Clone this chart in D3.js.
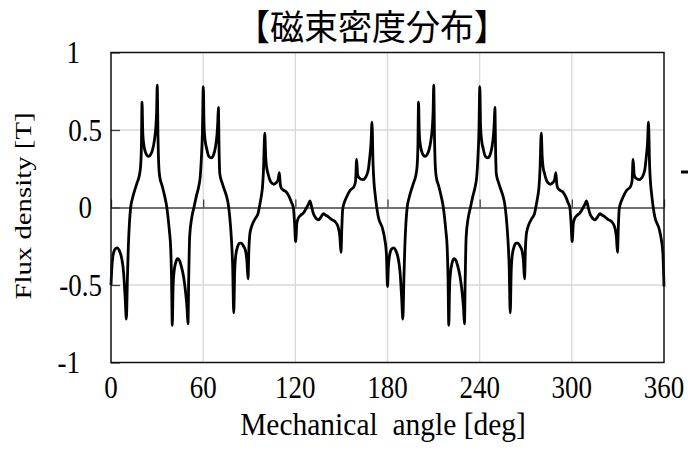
<!DOCTYPE html>
<html>
<head>
<meta charset="utf-8">
<script src="https://cdn.jsdelivr.net/npm/d3@7"></script>
<style>
  body { margin: 0; background: #fff; }
  svg { display: block; }
  text { font-family: "Liberation Serif", "Times New Roman", serif; fill: #000; }
</style>
</head>
<body>
<svg></svg>
<script>
// angle [deg] and flux density [T]
var angleDeg = [
  0, 0.6, 1.3, 2.5, 4.0, 5.5, 7.0, 8.2, 9.2, 10.0,
  10.7, 11.3, 12.0, 12.8, 14.0, 15.4, 17.0, 18.5, 19.3, 19.8,
  20.2, 20.7, 21.3, 22.3, 23.5, 24.5, 25.7, 27.0, 28.2, 29.2,
  29.7, 30.1, 30.6, 31.1, 31.7, 33.3, 35.0, 36.2, 37.1, 38.0,
  38.9, 39.4, 39.9, 40.4, 41.0, 42.0, 43.3, 44.5, 45.8, 47.3,
  48.6, 49.5, 50.1, 50.6, 51.2, 52.5, 54.0, 55.5, 57.1, 58.1,
  58.8, 59.5, 60.1, 60.6, 61.2, 62.3, 63.7, 65.3, 66.8, 68.0,
  69.0, 69.5, 69.9, 70.4, 70.8, 72.3, 74.0, 75.3, 76.2, 77.3,
  78.3, 79.2, 79.9, 80.5, 81.2, 82.5, 83.8, 84.8, 86.3, 87.6,
  88.5, 89.2, 89.8, 90.3, 91.3, 92.4, 94.0, 95.7, 96.9, 97.8,
  98.6, 99.3, 100.1, 100.7, 101.3, 102.2, 103.3, 104.4, 106.0, 107.6,
  108.8, 109.6, 110.2, 110.9, 112.5, 114.1, 116.0, 117.6, 118.7, 119.5,
  120.2, 121.0, 121.9, 123.5, 125.2, 127.4, 128.7, 129.5, 130.7, 131.8,
  132.8, 135.0, 136.8, 138.2, 139.8, 141.5, 144.0, 145.8, 148.0, 149.0,
  149.7, 150.3, 150.8, 151.8, 153.0, 155.6, 158.2, 159.2, 159.9, 160.6,
  161.6, 163.9, 166.5, 167.6, 168.4, 169.3, 169.9, 170.6, 171.3, 171.9,
  174.0, 176.9, 178.3, 179.3,
  180.0, 180.6, 181.3, 182.5, 184.0, 185.5, 187.0, 188.2, 189.2, 190.0,
  190.7, 191.3, 192.0, 192.8, 194.0, 195.4, 197.0, 198.5, 199.3, 199.8,
  200.2, 200.7, 201.3, 202.3, 203.5, 204.5, 205.7, 207.0, 208.2, 209.2,
  209.7, 210.1, 210.6, 211.1, 211.7, 213.3, 215.0, 216.2, 217.1, 218.0,
  218.9, 219.4, 219.9, 220.4, 221.0, 222.0, 223.3, 224.5, 225.8, 227.3,
  228.6, 229.5, 230.1, 230.6, 231.2, 232.5, 234.0, 235.5, 237.1, 238.1,
  238.8, 239.5, 240.1, 240.6, 241.2, 242.3, 243.7, 245.3, 246.8, 248.0,
  249.0, 249.5, 249.9, 250.4, 250.8, 252.3, 254.0, 255.3, 256.2, 257.3,
  258.3, 259.2, 259.9, 260.5, 261.2, 262.5, 263.8, 264.8, 266.3, 267.6,
  268.5, 269.2, 269.8, 270.3, 271.3, 272.4, 274.0, 275.7, 276.9, 277.8,
  278.6, 279.3, 280.1, 280.7, 281.3, 282.2, 283.3, 284.4, 286.0, 287.6,
  288.8, 289.6, 290.2, 290.9, 292.5, 294.1, 296.0, 297.6, 298.7, 299.5,
  300.2, 301.0, 301.9, 303.5, 305.2, 307.4, 308.7, 309.5, 310.7, 311.8,
  312.8, 315.0, 316.8, 318.2, 319.8, 321.5, 324.0, 325.8, 328.0, 329.0,
  329.7, 330.3, 330.8, 331.8, 333.0, 335.6, 338.2, 339.2, 339.9, 340.6,
  341.6, 343.9, 346.5, 347.6, 348.4, 349.3, 349.9, 350.6, 351.3, 351.9,
  354.0, 356.9, 358.3, 359.3, 360.0
];

var fluxT = [
  -0.50, -0.38, -0.31, -0.27, -0.26, -0.28, -0.33, -0.42, -0.58, -0.72,
  -0.45, -0.25, -0.10, 0.00, 0.06, 0.11, 0.16, 0.21, 0.27, 0.40,
  0.68, 0.48, 0.41, 0.36, 0.335, 0.33, 0.34, 0.37, 0.43, 0.52,
  0.62, 0.79, 0.45, 0.27, 0.20, 0.14, 0.07, 0.01, -0.06, -0.15,
  -0.27, -0.45, -0.76, -0.52, -0.42, -0.36, -0.33, -0.34, -0.38, -0.45,
  -0.55, -0.65, -0.75, -0.45, -0.19, -0.07, 0.00, 0.07, 0.135, 0.20,
  0.31, 0.48, 0.78, 0.52, 0.44, 0.38, 0.33, 0.32, 0.34, 0.39,
  0.47, 0.55, 0.645, 0.35, 0.22, 0.16, 0.11, 0.07, 0.03, -0.06,
  -0.19, -0.38, -0.68, -0.42, -0.31, -0.25, -0.23, -0.23, -0.25, -0.28,
  -0.35, -0.46, -0.26, -0.18, -0.13, -0.10, -0.07, -0.04, 0.02, 0.07,
  0.13, 0.25, 0.48, 0.33, 0.26, 0.22, 0.18, 0.16, 0.15, 0.16,
  0.18, 0.225, 0.15, 0.125, 0.11, 0.10, 0.07, 0.03, 0.00, -0.10,
  -0.22, -0.10, -0.07, -0.05, -0.036, 0.00, 0.025, 0.043, 0.00, -0.04,
  -0.06, -0.08, -0.06, -0.04, -0.05, -0.06, -0.08, -0.09, -0.13, -0.19,
  -0.29, -0.12, -0.015, 0.03, 0.06, 0.11, 0.135, 0.17, 0.31, 0.21,
  0.19, 0.18, 0.21, 0.25, 0.32, 0.42, 0.55, 0.28, 0.15, 0.09,
  -0.06, -0.14, -0.21, -0.30,
  -0.51, -0.38, -0.31, -0.27, -0.26, -0.28, -0.33, -0.42, -0.58, -0.72,
  -0.45, -0.25, -0.10, 0.00, 0.06, 0.11, 0.16, 0.21, 0.27, 0.40,
  0.68, 0.48, 0.41, 0.36, 0.335, 0.33, 0.34, 0.37, 0.43, 0.52,
  0.62, 0.79, 0.45, 0.27, 0.20, 0.14, 0.07, 0.01, -0.06, -0.15,
  -0.27, -0.45, -0.76, -0.52, -0.42, -0.36, -0.33, -0.34, -0.38, -0.45,
  -0.55, -0.65, -0.75, -0.45, -0.19, -0.07, 0.00, 0.07, 0.135, 0.20,
  0.31, 0.48, 0.78, 0.52, 0.44, 0.38, 0.33, 0.32, 0.34, 0.39,
  0.47, 0.55, 0.645, 0.35, 0.22, 0.16, 0.11, 0.07, 0.03, -0.06,
  -0.19, -0.38, -0.68, -0.42, -0.31, -0.25, -0.23, -0.23, -0.25, -0.28,
  -0.35, -0.46, -0.26, -0.18, -0.13, -0.10, -0.07, -0.04, 0.02, 0.07,
  0.13, 0.25, 0.48, 0.33, 0.26, 0.22, 0.18, 0.16, 0.15, 0.16,
  0.18, 0.225, 0.15, 0.125, 0.11, 0.10, 0.07, 0.03, 0.00, -0.10,
  -0.22, -0.10, -0.07, -0.05, -0.036, 0.00, 0.025, 0.043, 0.00, -0.04,
  -0.06, -0.08, -0.06, -0.04, -0.05, -0.06, -0.08, -0.09, -0.13, -0.19,
  -0.29, -0.12, -0.015, 0.03, 0.06, 0.11, 0.135, 0.17, 0.31, 0.21,
  0.19, 0.18, 0.21, 0.25, 0.32, 0.42, 0.55, 0.28, 0.15, 0.09,
  -0.06, -0.14, -0.21, -0.30, -0.51
];

var xTicks = [0, 60, 120, 180, 240, 300, 360];
var yTicks = [-1, -0.5, 0, 0.5, 1];
var yTickLabels = ["-1", "-0.5", "0", "0.5", "1"];

var width = 688,
    height = 454,
    plotLeft = 111,
    plotRight = 664,
    plotTop = 52.5,
    plotBottom = 362.5,
    stretch = 1.2; // glyphs in the picture are a bit taller than wide

var svg = d3.select("svg")
    .attr("width", width)
    .attr("height", height);

var x = d3.scaleLinear().domain([0, 360]).range([plotLeft, plotRight]);
var y = d3.scaleLinear().domain([-1, 1]).range([plotBottom, plotTop]);

// grid
svg.append("g").selectAll("line")
    .data(xTicks.slice(1, -1))
  .enter().append("line")
    .attr("x1", d => x(d)).attr("x2", d => x(d))
    .attr("y1", plotTop).attr("y2", plotBottom)
    .attr("stroke", "#d9d9d9").attr("stroke-width", 1.3);

svg.append("g").selectAll("line")
    .data([-0.5, 0.5])
  .enter().append("line")
    .attr("x1", plotLeft).attr("x2", plotRight)
    .attr("y1", d => y(d)).attr("y2", d => y(d))
    .attr("stroke", "#d9d9d9").attr("stroke-width", 1.3);

// x axis sits on the zero line, ticks point up
var xAxis = svg.append("g")
    .attr("transform", "translate(0," + y(0) + ")")
    .call(d3.axisTop(x).tickValues(xTicks).tickSize(8).tickSizeOuter(0).tickFormat(""));
xAxis.select(".domain").attr("stroke", "#404040").attr("stroke-width", 1.5);
xAxis.selectAll(".tick line").attr("stroke", "#404040").attr("stroke-width", 1.3);
xAxis.selectAll(".tick text").remove();

// y ticks point into the plot
var yAxis = svg.append("g")
    .attr("transform", "translate(" + plotLeft + ",0)")
    .call(d3.axisRight(y).tickValues(yTicks).tickSize(9).tickSizeOuter(0).tickFormat(""));
yAxis.select(".domain").remove();
yAxis.selectAll(".tick line").attr("stroke", "#404040").attr("stroke-width", 1.3);
yAxis.selectAll(".tick text").remove();

// curve
var line = d3.line()
    .x((d, i) => x(angleDeg[i]))
    .y(d => y(d))
    .curve(d3.curveMonotoneX);

svg.append("path")
    .datum(fluxT)
    .attr("d", line)
    .attr("fill", "none")
    .attr("stroke", "#000")
    .attr("stroke-width", 2.8)
    .attr("stroke-linejoin", "round");

// frame
svg.append("rect")
    .attr("x", plotLeft).attr("y", plotTop)
    .attr("width", plotRight - plotLeft).attr("height", plotBottom - plotTop)
    .attr("fill", "none").attr("stroke", "#111").attr("stroke-width", 1.5);

// tick labels
svg.append("g").selectAll("text")
    .data(xTicks)
  .enter().append("text")
    .attr("transform", d => "translate(" + x(d) + ",398) scale(1," + stretch + ")")
    .attr("text-anchor", "middle")
    .style("font-size", "27px")
    .text(d => d);

// the y labels in the picture are not lined up: whole numbers sit further left
function labelRight(v) {
  if (Math.abs(v) === 1) return 80;
  if (v === 0) return 92;
  return 102;
}

svg.append("g").selectAll("text")
    .data(yTicks)
  .enter().append("text")
    .attr("transform", d => "translate(" + labelRight(d) + "," + y(d) + ") scale(1," + stretch + ")")
    .attr("y", 8.8)
    .attr("text-anchor", "end")
    .style("font-size", "27px")
    .text((d, i) => yTickLabels[i]);

// axis titles
svg.append("text")
    .attr("transform", "translate(383,434.5) scale(1,1.1)")
    .attr("text-anchor", "middle")
    .style("font-size", "29.5px")
    .style("white-space", "pre")
    .text("Mechanical  angle [deg]");

svg.append("text")
    .attr("transform", "translate(31,206) rotate(-90) scale(" + stretch + ",1)")
    .attr("text-anchor", "middle")
    .style("font-size", "24px")
    .text("Flux density [T]");

// chart title
svg.append("text")
    .attr("transform", "translate(372,40) scale(1,1.05)")
    .attr("text-anchor", "middle")
    .style("font-family", "'Noto Sans CJK JP', sans-serif")
    .style("font-size", "34px")
    .text("【磁束密度分布】");

// cut-off legend sample at the right edge
svg.append("line")
    .attr("x1", 681).attr("x2", 690)
    .attr("y1", 172).attr("y2", 172)
    .attr("stroke", "#000").attr("stroke-width", 3);
</script>
</body>
</html>
